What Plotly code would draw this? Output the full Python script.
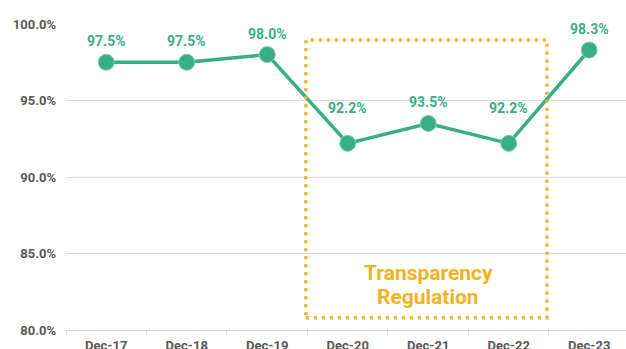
import plotly.graph_objects as go

# Year-end values
periods = ["Dec-17", "Dec-18", "Dec-19", "Dec-20", "Dec-21", "Dec-22", "Dec-23"]
rates = [97.5, 97.5, 98.0, 92.2, 93.5, 92.2, 98.3]
y_ticks = [80, 85, 90, 95, 100]

# Period covered by the regulation highlight
reg_start, reg_end = "Dec-20", "Dec-22"
reg_lines = ["Transparency", "Regulation"]

# Vertical offset (px) of each value label above its point
label_shift = [21, 21, 21, 35, 21, 35, 21]

GREEN = "#38AE88"
ORANGE = "#F5B21F"
GREY_TEXT = "#595959"

fig = go.Figure()

fig.add_trace(go.Scatter(
    x=periods,
    y=rates,
    mode="lines+markers",
    line=dict(color=GREEN, width=3.5),
    marker=dict(size=16, color=GREEN, line=dict(width=1, color="#7FCDB2")),
    cliponaxis=False,
    showlegend=False,
))

for p, v, s in zip(periods, rates, label_shift):
    fig.add_annotation(
        x=p, y=v, xref="x", yref="y",
        text=f"{v:.1f}%",
        showarrow=False,
        yanchor="middle",
        yshift=s,
        font=dict(family="Roboto", size=14, color=GREEN, weight="bold"),
    )

i0 = periods.index(reg_start)
i1 = periods.index(reg_end)
fig.add_shape(
    type="rect",
    xref="x", yref="y",
    x0=i0 - 0.52, x1=i1 + 0.475,
    y0=80.8, y1=98.95,
    line=dict(color=ORANGE, width=3.5, dash="3px,5px"),
    fillcolor="rgba(0,0,0,0)",
    layer="above",
)

for k, line in enumerate(reg_lines):
    fig.add_annotation(
        x=(i0 + i1) / 2, y=82.94,
        xref="x", yref="y",
        text=line,
        showarrow=False,
        yanchor="middle",
        yshift=12 - 24 * k,
        font=dict(family="Roboto", size=21, color=ORANGE, weight="bold"),
    )

fig.update_layout(
    width=626, height=349,
    margin=dict(l=66, r=0, t=24, b=19, autoexpand=False),
    paper_bgcolor="white",
    plot_bgcolor="white",
    font=dict(family="Roboto"),
    xaxis=dict(
        type="category",
        range=[-0.5, 6.457],
        automargin=False,
        showgrid=False,
        showline=True,
        linecolor="#D9D9D9",
        linewidth=1,
        ticks="outside",
        tickson="boundaries",
        ticklen=4,
        tickcolor="#D9D9D9",
        ticklabelstandoff=3,
        tickfont=dict(family="Roboto", size=13, color=GREY_TEXT, weight="bold"),
    ),
    yaxis=dict(
        range=[80, 100],
        automargin=False,
        tickvals=y_ticks,
        ticktext=[f"{v:.1f}%" for v in y_ticks],
        showgrid=True,
        gridcolor="#D9D9D9",
        gridwidth=1,
        zeroline=False,
        showline=False,
        ticks="",
        ticklabelstandoff=9,
        tickfont=dict(family="Roboto", size=13, color=GREY_TEXT, weight="bold"),
    ),
)

fig.write_html("out.html")
